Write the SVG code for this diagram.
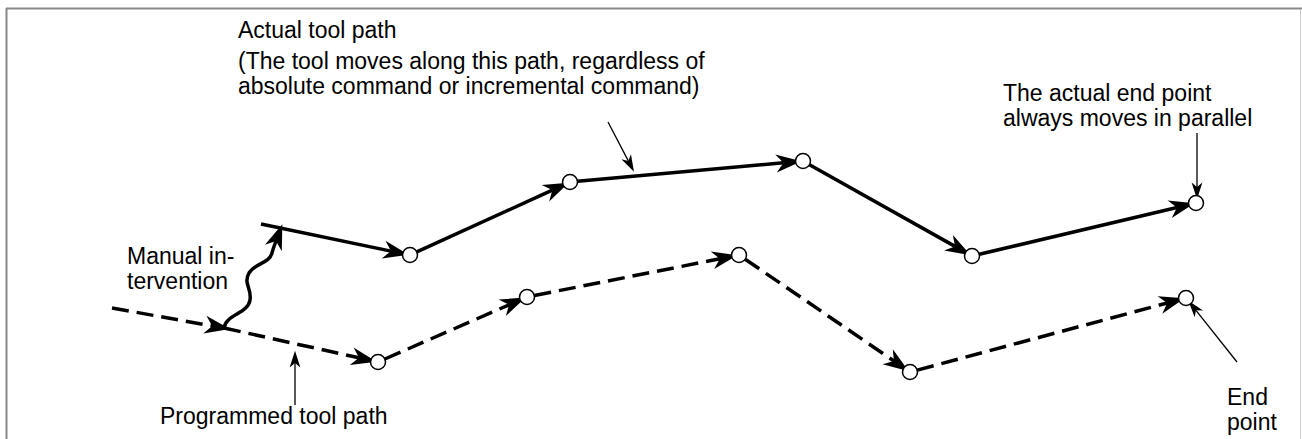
<svg xmlns="http://www.w3.org/2000/svg" width="1302" height="439" viewBox="0 0 1302 439">
<style>
text{font-family:"Liberation Sans",Arial,sans-serif;font-size:23px;fill:#000}
.thick{stroke:#000;stroke-width:3.5;fill:none;marker-end:url(#ah)}
.dash{stroke-dasharray:17 8}
.thin{stroke:#000;stroke-width:1.3;fill:none;marker-end:url(#ahs)}
.pt{fill:#fff;stroke:#000;stroke-width:1.5}
</style>
<defs>
<marker id="ah" markerUnits="userSpaceOnUse" markerWidth="30" markerHeight="30" viewBox="-6 -8 20 16" refX="0" refY="0" orient="auto" overflow="visible">
<path d="M12,0 L-5,-6 L0,0 L-5,6 Z" fill="#000"/>
</marker>
<marker id="ahs" markerUnits="userSpaceOnUse" markerWidth="20" markerHeight="20" viewBox="-4 -5 13 10" refX="0" refY="0" orient="auto" overflow="visible">
<path d="M8,0 L-3,-3.5 L0,0 L-3,3.5 Z" fill="#000"/>
</marker>
</defs>
<rect width="1302" height="439" fill="#fff"/>
<g id="frame" fill="none">
<line x1="6" y1="8.5" x2="1302" y2="8.5" stroke="#888" stroke-width="2"/>
<line x1="6.5" y1="8" x2="6.5" y2="439" stroke="#888" stroke-width="2"/>
<line x1="1300.5" y1="9" x2="1300.5" y2="439" stroke="#ccc" stroke-width="1"/>
</g>
<g id="connectors">
<line class="thick" x1="261" y1="224" x2="391.0" y2="251.1"/>
<line class="thick" x1="416.8" y1="251.9" x2="552.3" y2="190.1"/>
<line class="thick" x1="577.5" y1="181.3" x2="783.5" y2="162.8"/>
<line class="thick" x1="809.5" y1="164.7" x2="955.0" y2="246.4"/>
<line class="thick" x1="979.3" y1="254.3" x2="1177.0" y2="207.5"/>
<line class="thick dash" x1="112" y1="308" x2="212.2" y2="325.9"/>
<line class="thick dash" x1="224" y1="328" x2="359.0" y2="357.8"/>
<line class="thick dash" x1="384.9" y1="359" x2="509.1" y2="304.8"/>
<line class="thick dash" x1="534.4" y1="295.5" x2="719.8" y2="258.8"/>
<line class="thick dash" x1="745.2" y1="259.2" x2="893.9" y2="361.0"/>
<line class="thick dash" x1="917.2" y1="370.1" x2="1167.2" y2="303.0"/>
<path class="thick" d="M224,328 C226,314 248,314 250,300 C252,288 243,284 249,273 C255,263 269,264 272,253 C273,249 273,249 276,241"/>
<line class="thin" x1="608" y1="122" x2="628.3" y2="160.9"/>
<line class="thin" x1="1197" y1="133" x2="1197" y2="187"/>
<line class="thin" x1="295" y1="405" x2="295" y2="363"/>
<line class="thin" x1="1237" y1="362" x2="1196" y2="310.3"/>
</g>
<g id="actual-points">
<circle class="pt" cx="410" cy="255" r="7.5"/>
<circle class="pt" cx="570" cy="182" r="7.5"/>
<circle class="pt" cx="803" cy="161" r="7.5"/>
<circle class="pt" cx="972" cy="256" r="7.5"/>
<circle class="pt" cx="1196" cy="203" r="7.5"/>
</g>
<g id="programmed-points">
<circle class="pt" cx="378" cy="362" r="7.5"/>
<circle class="pt" cx="527" cy="297" r="7.5"/>
<circle class="pt" cx="739" cy="255" r="7.5"/>
<circle class="pt" cx="910" cy="372" r="7.5"/>
<circle class="pt" cx="1186" cy="298" r="7.5"/>
</g>
<g id="label-actual">
<text x="238" y="38">Actual tool path</text>
<text x="238" y="69">(The tool moves along this path, regardless of</text>
<text x="238" y="94">absolute command or incremental command)</text>
</g>
<g id="label-endmove">
<text x="1003" y="101">The actual end point</text>
<text x="1003" y="126">always moves in parallel</text>
</g>
<g id="label-manual">
<text x="127" y="264">Manual in-</text>
<text x="127" y="289">tervention</text>
</g>
<g id="label-programmed">
<text x="160" y="424">Programmed tool path</text>
</g>
<g id="label-end">
<text x="1227" y="405">End</text>
<text x="1227" y="430">point</text>
</g>
</svg>
